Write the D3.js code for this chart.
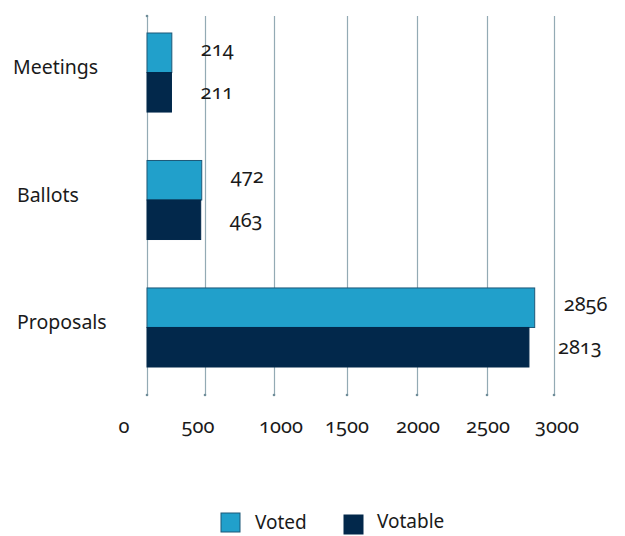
<!DOCTYPE html>
<html>
<head>
<meta charset="utf-8">
<script src="https://cdn.jsdelivr.net/npm/d3@7"></script>
<style>
  body { margin: 0; background: #fff; }
  text { font-family: "Noto Sans", "Open Sans", sans-serif; fill: #1a1a1a; font-variant-numeric: oldstyle-nums; font-feature-settings: "onum" 1; }
</style>
</head>
<body>
<script>
const categories = ['Meetings', 'Ballots', 'Proposals']
const series = ['Voted', 'Votable']
const voted = [214, 472, 2856]
const votable = [211, 463, 2813]
const tickValues = [0, 500, 1000, 1500, 2000, 2500, 3000]

const w = 625, h = 536
const color = { Voted: '#21a0cb', Votable: '#02284b' }
const stroke = { Voted: '#1d5878', Votable: '#02284b' }

let svg = d3.select('body')
    .append('svg')
    .attr('width', w)
    .attr('height', h)

// the source chart's gridlines are unevenly spaced, so the scale follows them
const xScale = d3.scaleLinear()
    .domain(tickValues)
    .range([147, 205, 274, 347, 417, 487, 554])

const labelX = d3.scaleLinear()
    .domain(tickValues)
    .range([124, 198, 281, 347, 418, 488, 557])

const yScale = d3.scaleBand()
    .domain(categories)
    .range([33, 367])
    .paddingInner(0.38)

const ySub = d3.scaleBand()
    .domain(series)
    .range([0, yScale.bandwidth()])

const gridTop = 16, gridBottom = 395

svg.append('g')
    .attr('class', 'grid')
    .attr('transform', 'translate(0, ' + gridBottom + ')')
    .call(d3.axisBottom(xScale).tickValues(tickValues).tickSize(-(gridBottom - gridTop)).tickFormat(''))
    .call(g => g.select('.domain').remove())
    .call(g => g.selectAll('line').attr('stroke', '#93aab4').attr('stroke-width', 1.2))

svg.selectAll('.grid-dot')
    .data(tickValues)
    .enter()
    .append('circle')
    .attr('cx', d => xScale(d))
    .attr('cy', gridBottom)
    .attr('r', 1.3)
    .attr('fill', '#6f8d99')

svg.append('circle')
    .attr('cx', xScale(0))
    .attr('cy', gridTop)
    .attr('r', 1.3)
    .attr('fill', '#6f8d99')

svg.selectAll('.tick-label')
    .data(tickValues)
    .enter()
    .append('text')
    .attr('class', 'tick-label')
    .attr('x', d => labelX(d))
    .attr('y', 433)
    .attr('text-anchor', 'middle')
    .style('font-size', '20px')
    .text(d => d)

const rows = []
categories.forEach((c, i) => {
    rows.push({ cat: c, key: 'Voted', value: voted[i] })
    rows.push({ cat: c, key: 'Votable', value: votable[i] })
})

svg.selectAll('.bar')
    .data(rows)
    .enter()
    .append('rect')
    .attr('class', 'bar')
    .attr('x', xScale(0))
    .attr('y', d => yScale(d.cat) + ySub(d.key))
    .attr('width', d => xScale(d.value) - xScale(0))
    .attr('height', ySub.bandwidth())
    .attr('fill', d => color[d.key])
    .attr('stroke', d => stroke[d.key])
    .attr('stroke-width', 1)

svg.selectAll('.value')
    .data(rows)
    .enter()
    .append('text')
    .attr('class', 'value')
    .attr('x', d => xScale(d.value) + 29)
    .attr('y', d => yScale(d.cat) + ySub(d.key) + ySub.bandwidth() / 2 + (d.key == 'Voted' ? -4 : 0))
    .attr('dy', '0.35em')
    .style('font-size', '20px')
    .text(d => d.value)

svg.selectAll('.cat')
    .data(categories)
    .enter()
    .append('text')
    .attr('class', 'cat')
    .attr('x', (d, i) => i == 0 ? 13 : 17)
    .attr('y', d => yScale(d) + yScale.bandwidth() / 2 - 5)
    .attr('dy', '0.35em')
    .style('font-size', '19.5px')
    .text(d => d)

let legend = svg.selectAll('.legend')
    .data(series)
    .enter()
    .append('g')
    .attr('class', 'legend')
    .attr('transform', (d, i) => `translate(${221 + i * 123}, ${513 + i * 2})`)

legend.append('rect')
    .attr('width', 19)
    .attr('height', 19)
    .attr('fill', d => color[d])
    .attr('stroke', d => stroke[d])

legend.append('text')
    .attr('x', (d, i) => i == 0 ? 34 : 33)
    .attr('y', (d, i) => i == 0 ? 9 : 6)
    .attr('dy', '0.35em')
    .style('font-size', '19px')
    .text(d => d)
</script>
</body>
</html>
